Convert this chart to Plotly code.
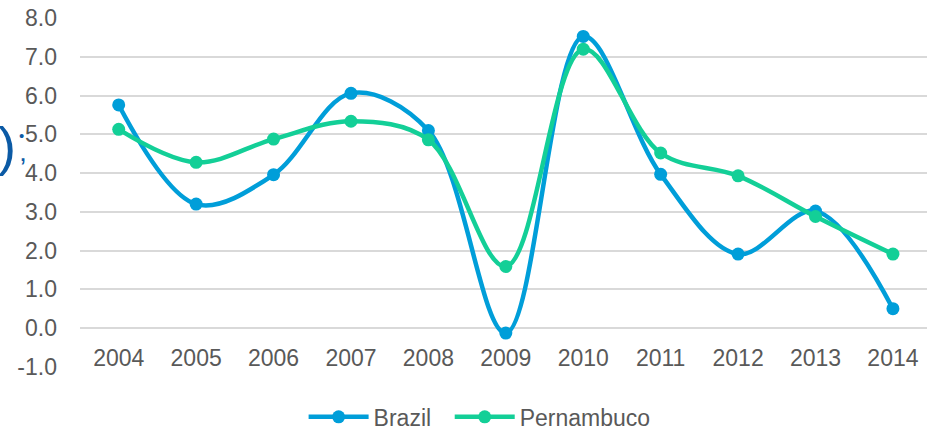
import plotly.graph_objects as go

years = ["2004", "2005", "2006", "2007", "2008", "2009", "2010", "2011", "2012", "2013", "2014"]
brazil = [5.76, 3.2, 3.96, 6.06, 5.1, -0.13, 7.53, 3.97, 1.91, 3.02, 0.5]
pernambuco = [5.13, 4.28, 4.88, 5.34, 4.86, 1.59, 7.2, 4.52, 3.93, 2.88, 1.91]
y_ticks = [-1, 0, 1, 2, 3, 4, 5, 6, 7, 8]
y_tick_labels = ["-1.0", "0.0", "1.0", "2.0", "3.0", "4.0", "5.0", "6.0", "7.0", "8.0"]

BLUE = "#009ed9"
GREEN = "#13cf97"
TEXT = "#595959"
FONT = "Liberation Sans, Arial, sans-serif"
FS = 23

fig = go.Figure()
fig.add_trace(go.Scatter(
    x=years, y=brazil, name="Brazil", mode="lines+markers",
    line=dict(color=BLUE, width=4.5, shape="spline", smoothing=1.0),
    marker=dict(color=BLUE, size=13), legend="legend",
))
fig.add_trace(go.Scatter(
    x=years, y=pernambuco, name="Pernambuco", mode="lines+markers",
    line=dict(color=GREEN, width=4.5, shape="spline", smoothing=1.0),
    marker=dict(color=GREEN, size=13), legend="legend2",
))

Y0, Y1 = -1.005, 8.005
zero_pos = (0 - Y0) / (Y1 - Y0)

legend_style = dict(
    orientation="h", y=-0.143, xanchor="left", yanchor="middle",
    font=dict(family=FONT, size=FS, color=TEXT),
    itemwidth=60, tracegroupgap=0, bgcolor="rgba(0,0,0,0)",
)

fig.update_layout(
    width=927, height=431,
    margin=dict(l=80, r=0, t=18, b=64, autoexpand=False),
    paper_bgcolor="white", plot_bgcolor="white",
    font=dict(family=FONT, size=FS, color=TEXT),
    showlegend=True,
    legend=dict(x=0.264, **legend_style),
    legend2=dict(x=0.4365, **legend_style),
    xaxis=dict(
        type="category", range=[-0.5, 10.44],
        showgrid=False, zeroline=False, showline=False,
        ticks="", anchor="free", position=zero_pos,
        ticklabelstandoff=14, automargin=False,
        tickfont=dict(family=FONT, size=FS, color=TEXT),
    ),
    yaxis=dict(
        range=[Y0, Y1], tickvals=y_ticks, ticktext=y_tick_labels,
        showgrid=True, gridcolor="#d9d9d9", gridwidth=1.5,
        zeroline=False, showline=False, ticks="",
        ticklabelstandoff=22, automargin=False,
        tickfont=dict(family=FONT, size=FS, color=TEXT),
    ),
)

# stray marks at the left edge of the original image
MARK = "#0b5aa5"
fig.add_annotation(text=")", xref="paper", yref="paper", x=-0.0862, y=0.633,
                   xanchor="center", yanchor="middle",
                   showarrow=False, font=dict(family=FONT, size=54, color=MARK))
fig.add_annotation(text="•", xref="paper", yref="paper", x=-0.0685, y=0.662,
                   xanchor="center", yanchor="middle",
                   showarrow=False, font=dict(family=FONT, size=15, color=MARK))
fig.add_annotation(text="ʼ", xref="paper", yref="paper", x=-0.0676, y=0.567,
                   xanchor="center", yanchor="middle",
                   showarrow=False, font=dict(family=FONT, size=28, color=MARK))

fig.write_html("out.html", config={"displayModeBar": False},
               post_script="document.body.style.margin='0';")
